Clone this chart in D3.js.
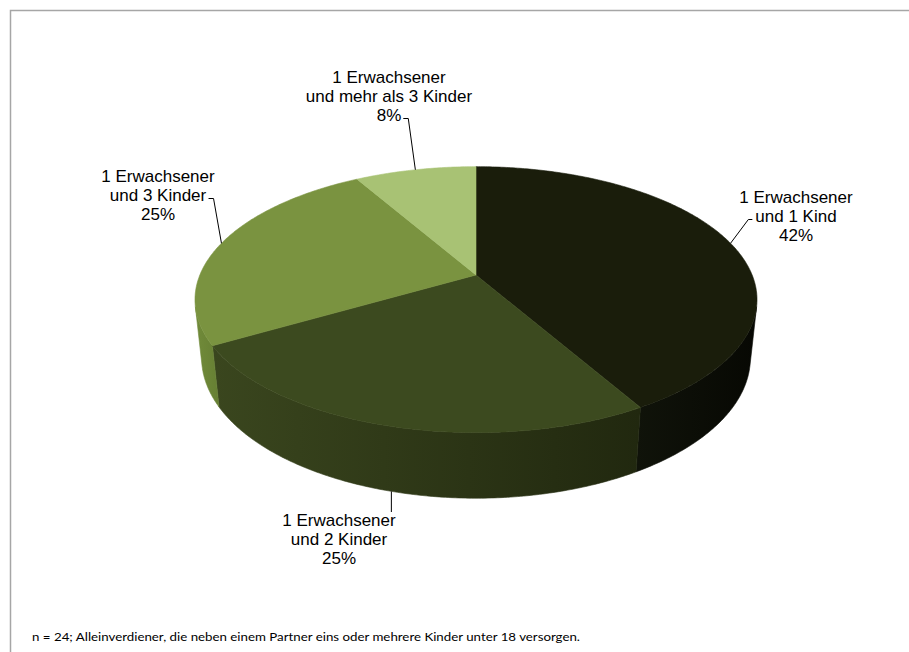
<!DOCTYPE html>
<html>
<head>
<meta charset="utf-8">
<script src="https://cdn.jsdelivr.net/npm/d3@7"></script>
<style>
  html, body { margin: 0; padding: 0; background: #fff; }
  svg { display: block; }
</style>
</head>
<body>
<script>
// Household types of single earners (n = 24)
const categories = [
  "1 Erwachsener und 1 Kind",
  "1 Erwachsener und 2 Kinder",
  "1 Erwachsener und 3 Kinder",
  "1 Erwachsener und mehr als 3 Kinder"
];
const counts = [10, 6, 6, 2];
const labelLines = [
  ["1 Erwachsener", "und 1 Kind"],
  ["1 Erwachsener", "und 2 Kinder"],
  ["1 Erwachsener", "und 3 Kinder"],
  ["1 Erwachsener", "und mehr als 3 Kinder"]
];
const topColors = ["#1a1d0b", "#3c4a1f", "#7a9340", "#a8c274"];
// wall shading: [left, right]
const wallColors = [["#10130a", "#070803"], ["#3a461e", "#21280f"], ["#718b3a", "#667f33"], ["#98b066", "#8aa35a"]];
const footnote = "n = 24; Alleinverdiener, die neben einem Partner eins oder mehrere Kinder unter 18 versorgen.";

const W = 909, H = 652;
const svg = d3.select("body").append("svg").attr("width", W).attr("height", H);

// outer frame (top and left edges)
svg.append("path")
  .attr("d", `M10.5,${H} V10.5 H${W}`)
  .attr("fill", "none").attr("stroke", "#a6a6a6").attr("stroke-width", 1.5);

// perspective camera for a unit-radius pie disc
const cam = { cx: 476, cy: 275, f: 1320, dist: 4.78, sinP: 0.465, thick: 0.24 };
cam.cosP = Math.sqrt(1 - cam.sinP * cam.sinP);

function projectXYZ(X, Y, Z) {
  const yc = Y * cam.cosP - Z * cam.sinP;
  const depth = cam.dist - (Y * cam.sinP + Z * cam.cosP);
  return [cam.cx + cam.f * X / depth, cam.cy - cam.f * yc / depth];
}
function rim(theta, Y) {
  return projectXYZ(Math.sin(theta), Y, -Math.cos(theta));
}
function arcPoints(a0, a1, Y) {
  const n = Math.max(2, Math.ceil(Math.abs(a1 - a0) / 0.01));
  return d3.range(n + 1).map(i => rim(a0 + (a1 - a0) * i / n, Y));
}

const pie = d3.pie().sort(null).startAngle(0).endAngle(2 * Math.PI);
const arcs = pie(counts);
const total = d3.sum(counts);
const pct = d3.format(".0%");

const line = d3.line();
const defs = svg.append("defs");

// visible part of the outer wall (faces the camera)
const thetaLo = Math.acos(-1 / (cam.dist * cam.cosP));
const thetaHi = 2 * Math.PI - thetaLo;

const gWalls = svg.append("g");
arcs.forEach((a, i) => {
  const s = Math.max(a.startAngle, thetaLo), e = Math.min(a.endAngle, thetaHi);
  if (e <= s) return;
  const gid = "wall" + i;
  const grad = defs.append("linearGradient").attr("id", gid)
    .attr("x1", 0).attr("x2", 1).attr("y1", 0).attr("y2", 0);
  grad.append("stop").attr("offset", 0).attr("stop-color", wallColors[i][0]);
  grad.append("stop").attr("offset", 1).attr("stop-color", wallColors[i][1]);
  const pts = arcPoints(s, e, 0).concat(arcPoints(e, s, -cam.thick));
  gWalls.append("path")
    .attr("d", line(pts) + "Z")
    .attr("fill", `url(#${gid})`)
    .attr("stroke", `url(#${gid})`).attr("stroke-width", 0.6);
});

// top faces
const gTops = svg.append("g");
arcs.forEach((a, i) => {
  const pts = [projectXYZ(0, 0, 0)].concat(arcPoints(a.startAngle, a.endAngle, 0));
  gTops.append("path")
    .attr("d", line(pts) + "Z")
    .attr("fill", topColors[i])
    .attr("stroke", topColors[i]).attr("stroke-width", 0.6);
});

// labels with leader lines
const labelPos = [
  { x: 796, y: 203, side: "left",  row: 1 },
  { x: 339, y: 526, side: "top",   row: 0 },
  { x: 158, y: 182, side: "right", row: 1 },
  { x: 389, y: 83,  side: "right", row: 2 }
];
const lineGap = 19;
const gLabels = svg.append("g")
  .attr("font-family", "'Liberation Sans', Arial, sans-serif")
  .attr("font-size", 17).attr("fill", "#000").attr("text-anchor", "middle");

arcs.forEach((a, i) => {
  const p = labelPos[i];
  const rows = labelLines[i].concat([pct(counts[i] / total)]);
  const texts = rows.map((t, k) =>
    gLabels.append("text").attr("x", p.x).attr("y", p.y + k * lineGap).text(t));
  const mid = (a.startAngle + a.endAngle) / 2;
  const anchor = p.side === "top" ? rim(mid, -cam.thick) : rim(mid, 0);
  let pts;
  if (p.side === "top") {
    const bb = texts[0].node().getBBox();
    pts = [anchor, [anchor[0], bb.y + 1]];
  } else {
    const bb = texts[p.row].node().getBBox();
    const yl = p.y + p.row * lineGap - 2.5;
    const end = p.side === "left" ? bb.x - 3 : bb.x + bb.width + 2;
    const elbow = p.side === "left" ? end - 4 : end + 5;
    pts = [anchor, [elbow, yl], [end, yl]];
  }
  svg.append("path").attr("d", line(pts))
    .attr("fill", "none").attr("stroke", "#000").attr("stroke-width", 1);
});

// footnote
svg.append("text")
  .attr("x", 32).attr("y", 641)
  .attr("font-family", "Lato, 'Open Sans', sans-serif")
  .attr("font-size", 12).attr("fill", "#000")
  .attr("textLength", 548).attr("lengthAdjust", "spacingAndGlyphs")
  .text(footnote);
</script>
</body>
</html>
